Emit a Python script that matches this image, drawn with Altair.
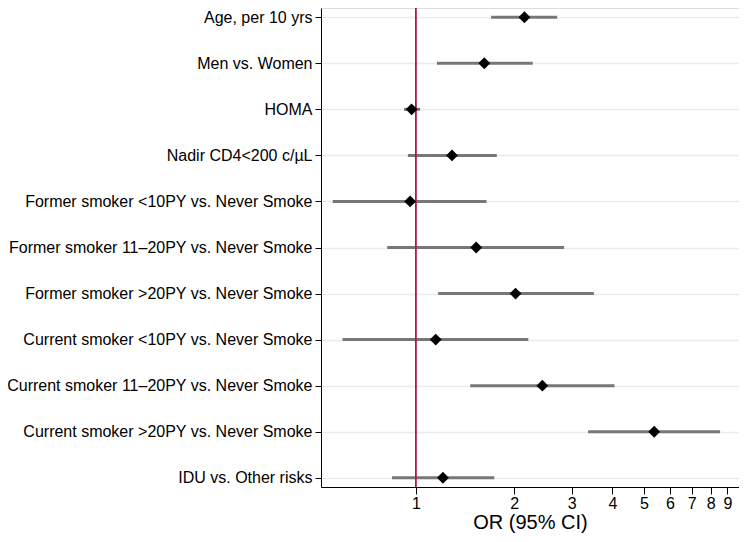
import altair as alt
import pandas as pd

labels = [
    "Age, per 10 yrs",
    "Men vs. Women",
    "HOMA",
    "Nadir CD4<200 c/\u00b5L",
    "Former smoker <10PY vs. Never Smoke",
    "Former smoker 11\u201320PY vs. Never Smoke",
    "Former smoker >20PY vs. Never Smoke",
    "Current smoker <10PY vs. Never Smoke",
    "Current smoker 11\u201320PY vs. Never Smoke",
    "Current smoker >20PY vs. Never Smoke",
    "IDU vs. Other risks",
]
odds = [2.15, 1.62, 0.97, 1.29, 0.96, 1.53, 2.02, 1.15, 2.44, 5.37, 1.21]
lower = [1.70, 1.16, 0.92, 0.945, 0.556, 0.817, 1.17, 0.596, 1.467, 3.37, 0.845]
upper = [2.71, 2.28, 1.03, 1.77, 1.646, 2.845, 3.51, 2.21, 4.06, 8.55, 1.738]
x_ticks = [1, 2, 3, 4, 5, 6, 7, 8, 9]

df = pd.DataFrame({"label": labels, "or": odds, "lo": lower, "hi": upper})
ref = pd.DataFrame({"x": [1]})

FONT = "Liberation Sans"
xscale = alt.Scale(type="log", domain=[0.512, 9.77], nice=False, clamp=True)
yenc = alt.Y(
    "label:N",
    sort=labels,
    scale=alt.Scale(type="point", padding=0.2),
    axis=alt.Axis(
        title=None, grid=True, gridColor="#e6eded", gridWidth=1.5,
        domainColor="black", tickColor="black", tickSize=6,
        labelFontSize=16, labelColor="black", labelPadding=3, labelLimit=400,
        labelFont=FONT,
    ),
)

rule = alt.Chart(ref).mark_rule(color="#b0174b", strokeWidth=1.8).encode(
    x=alt.X("x:Q", scale=xscale)
)

bars = alt.Chart(df).mark_rule(color="#777777", strokeWidth=3).encode(
    x=alt.X(
        "lo:Q", scale=xscale,
        axis=alt.Axis(
            title="OR (95% CI)", values=x_ticks, format="d", grid=False,
            domainColor="black", tickColor="black", tickSize=7,
            labelFontSize=16, labelColor="black", labelFont=FONT, labelPadding=1,
            titleFontSize=20, titleFontWeight="normal", titleColor="black",
            titleFont=FONT, titlePadding=1,
        ),
    ),
    x2="hi:Q",
    y=yenc,
)

pts = alt.Chart(df).mark_point(shape="diamond", filled=True, color="black", size=140, opacity=1).encode(
    x=alt.X("or:Q", scale=xscale),
    y=alt.Y("label:N", sort=labels),
)

chart = alt.layer(bars, rule, pts).properties(
    width=418, height=479,
    autosize=alt.AutoSizeParams(type="none"),
    padding={"left": 313, "top": 0, "right": 0, "bottom": 47},
).configure_view(stroke=None).configure(font=FONT)

chart.save("out.html", embed_options={"renderer": "svg", "actions": False})
